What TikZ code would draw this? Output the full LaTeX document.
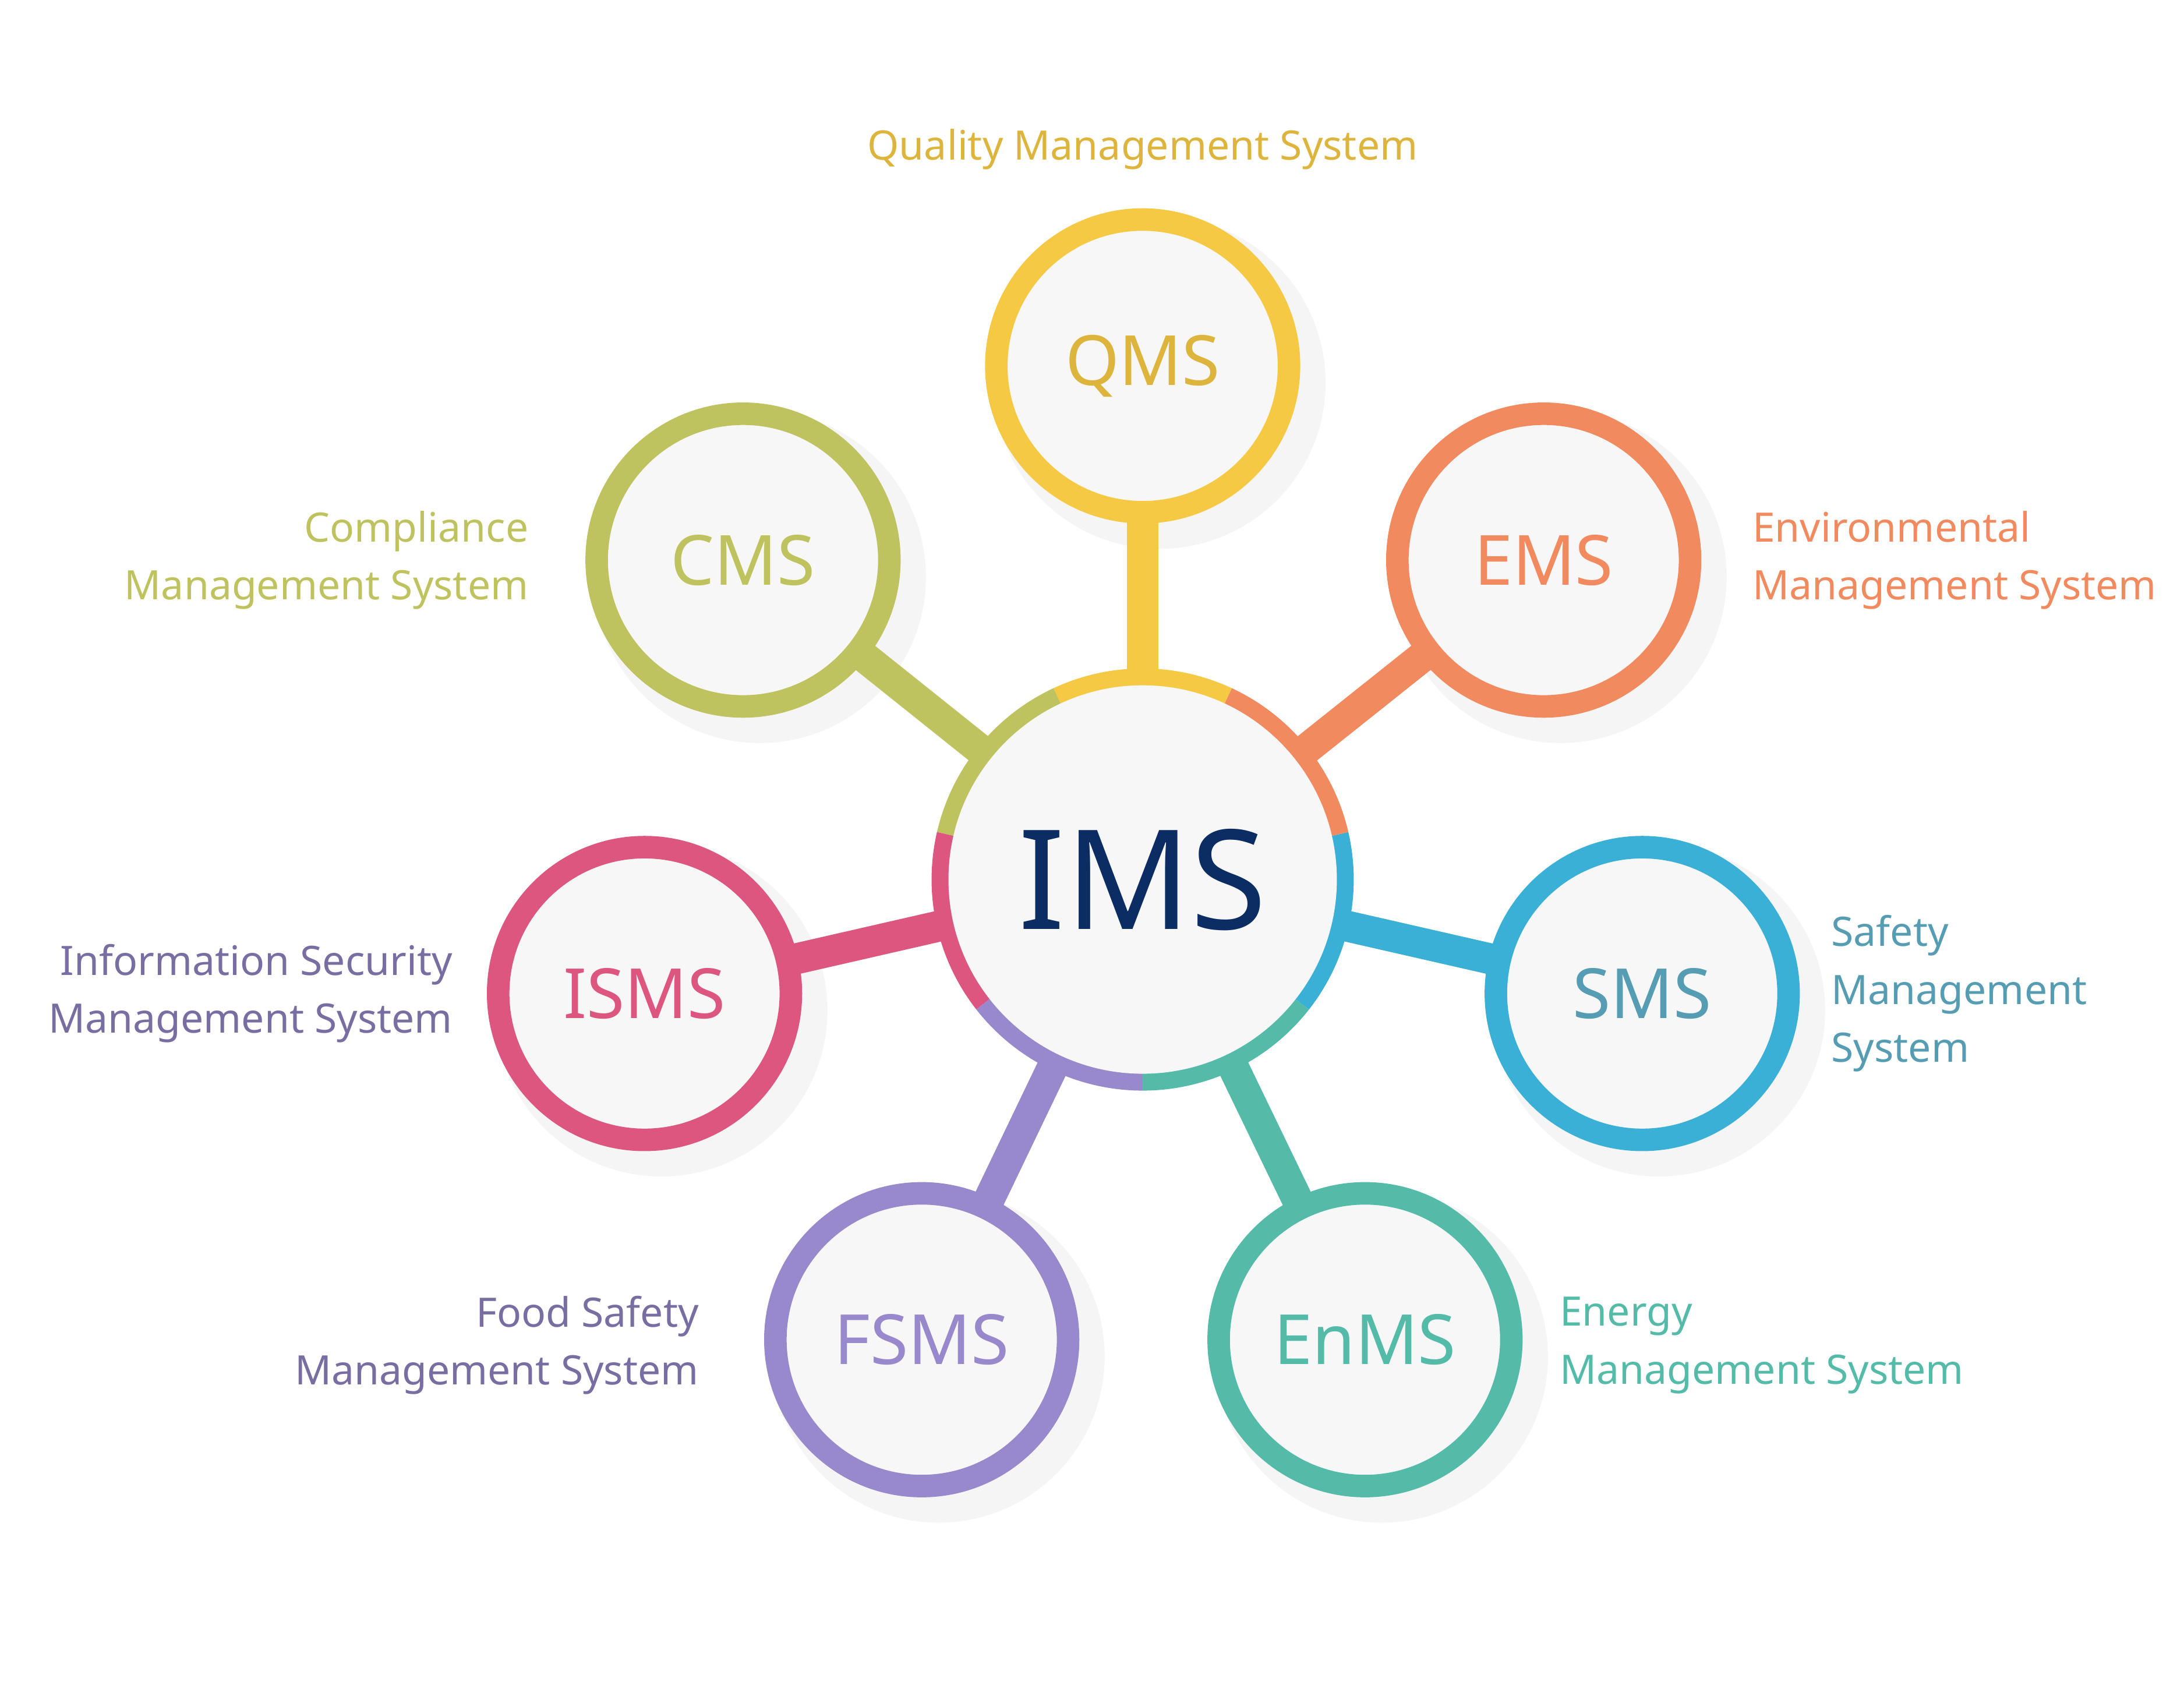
\documentclass[tikz,border=0pt]{standalone}
\usepackage{fontspec}
\setmainfont{Noto Sans}
\usetikzlibrary{calc}
\definecolor{qmsc}{HTML}{F6C944}
\definecolor{cmsc}{HTML}{BFC35F}
\definecolor{emsc}{HTML}{F28A5F}
\definecolor{ismsc}{HTML}{DC5680}
\definecolor{smsc}{HTML}{3AB0D6}
\definecolor{fsmsc}{HTML}{9789CB}
\definecolor{enmsc}{HTML}{55BBA9}
\definecolor{imstext}{HTML}{0B2D63}
\definecolor{inner}{HTML}{F7F7F7}
\tikzset{
	sat/.style={circle,draw=#1,line width=0.16cm,fill=inner,minimum size=2.08cm,inner sep=0pt,font=\fontsize{14}{14}\selectfont},
	neck/.style={draw=#1,line width=0.22cm},
	desc/.style={font=\fontsize{8.2}{11.7}\selectfont,align=#1}
}
\begin{document}
\begin{tikzpicture}
	\useasboundingbox (0,0) rectangle (15.52,12.0);
	%coordinates
	\coordinate (c) at (8.12,5.75);
	\coordinate (pq) at (8.12,9.40);
	\coordinate (pc) at (5.28,8.02);
	\coordinate (pe) at (10.97,8.02);
	\coordinate (pi) at (4.58,4.94);
	\coordinate (ps) at (11.67,4.94);
	\coordinate (pf) at (6.55,2.48);
	\coordinate (pn) at (9.70,2.48);
	
	%shadows
	\foreach \p in {pq,pc,pe,pi,ps,pf,pn}
		\fill[black!4] ($(\p)+(0.12,-0.12)$) circle (1.18cm);
	
	%necks
	\draw[neck=qmsc] (c) -- (pq);
	\draw[neck=cmsc] (c) -- (pc);
	\draw[neck=emsc] (c) -- (pe);
	\draw[neck=ismsc] (c) -- (pi);
	\draw[neck=smsc] (c) -- (ps);
	\draw[neck=fsmsc] (c) -- (pf);
	\draw[neck=enmsc] (c) -- (pn);
	
	%satellites
	\node[sat=qmsc,text=qmsc!90!black] (qms) at (pq) {QMS};
	\node[sat=cmsc] (cms) at (pc) {\textcolor{cmsc}{CMS}};
	\node[sat=emsc,text=emsc] (ems) at (pe) {EMS};
	\node[sat=ismsc,text=ismsc] (isms) at (pi) {ISMS};
	\node[sat=smsc,text=smsc!60!gray] (sms) at (ps) {SMS};
	\node[sat=fsmsc,text=fsmsc] (fsms) at (pf) {FSMS};
	\node[sat=enmsc,text=enmsc] (enms) at (pn) {EnMS};
	
	%centre ring
	\fill[qmsc] (c) -- +(65:1.5) arc (65:115:1.5) -- cycle;
	\fill[cmsc] (c) -- +(115:1.5) arc (115:167:1.5) -- cycle;
	\fill[ismsc] (c) -- +(167:1.5) arc (167:218:1.5) -- cycle;
	\fill[fsmsc] (c) -- +(218:1.5) arc (218:270:1.5) -- cycle;
	\fill[enmsc] (c) -- +(270:1.5) arc (270:322:1.5) -- cycle;
	\fill[smsc] (c) -- +(322:1.5) arc (322:373:1.5) -- cycle;
	\fill[emsc] (c) -- +(13:1.5) arc (13:65:1.5) -- cycle;
	\node[circle,fill=inner,minimum size=2.76cm,text=imstext,font=\fontsize{28}{28}\selectfont] (ims) at (c) {IMS};
	
	%outer labels
	\node[desc=center,text=qmsc!90!black] (qmsl) at (8.12,10.94) {Quality Management System};
	\node[desc=right,text=cmsc,anchor=east] (cmsl) at (3.88,8.02) {Compliance\\Management System};
	\node[desc=left,text=emsc,anchor=west] (emsl) at (12.33,8.02) {Environmental\\Management System};
	\node[desc=right,text=fsmsc!80!black,anchor=east] (ismsl) at (3.34,4.94) {Information Security\\Management System};
	\node[desc=left,text=smsc!60!gray,anchor=west] (smsl) at (12.89,4.94) {Safety\\Management\\System};
	\node[desc=right,text=fsmsc!80!black,anchor=east] (fsmsl) at (5.09,2.44) {Food Safety\\Management System};
	\node[desc=left,text=enmsc,anchor=west] (enmsl) at (10.96,2.44) {Energy\\Management System};
\end{tikzpicture}
\end{document}
